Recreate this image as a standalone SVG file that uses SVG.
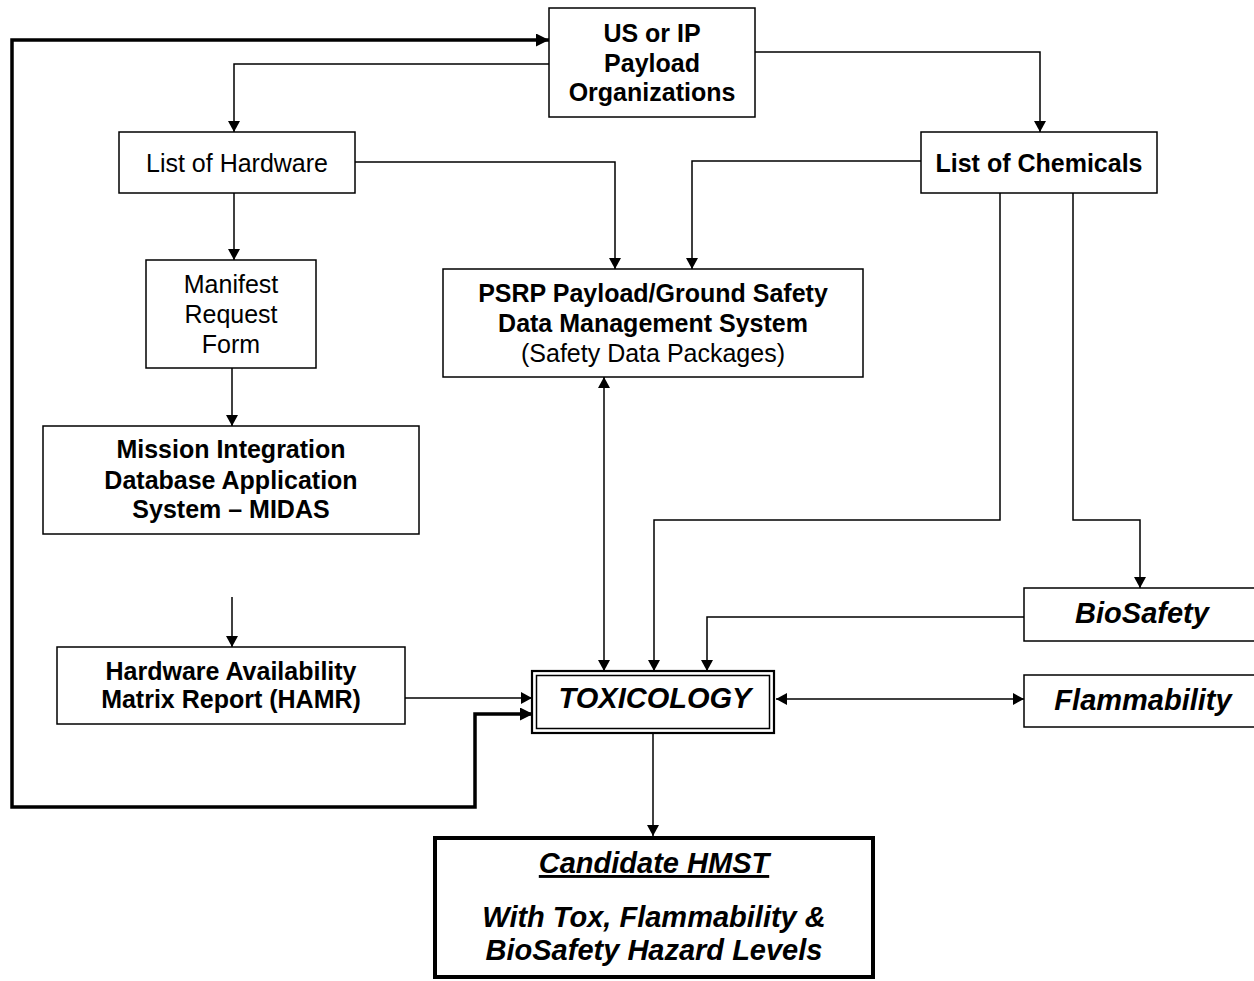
<svg xmlns="http://www.w3.org/2000/svg" width="1254" height="981" viewBox="0 0 1254 981">
<style>
.box{fill:#fff;stroke:#000;stroke-width:1.5}
.ln{fill:none;stroke:#000;stroke-width:1.5}
.thick{fill:none;stroke:#000;stroke-width:3.5}
text{font-family:"Liberation Sans",Arial,sans-serif;font-size:25px;fill:#000;text-anchor:middle}
.b{font-weight:bold}
.bi{font-weight:bold;font-style:italic;font-size:29px}
</style>
<defs>
<marker id="ah" viewBox="0 0 11 12" refX="11" refY="6" markerWidth="11" markerHeight="12" markerUnits="userSpaceOnUse" orient="auto-start-reverse"><path d="M0,0 L11,6 L0,12 z" fill="#000"/></marker>
<marker id="aht" viewBox="0 0 13 13" refX="13" refY="6.5" markerWidth="13" markerHeight="13" markerUnits="userSpaceOnUse" orient="auto-start-reverse"><path d="M0,0 L13,6.5 L0,13 z" fill="#000"/></marker>
</defs>
<g id="connectors">
<path class="thick" d="M533,714 H475 V807 H12 V40 H549" marker-start="url(#aht)" marker-end="url(#aht)"/>
<path class="ln" d="M549,64 H234 V132" marker-end="url(#ah)"/>
<path class="ln" d="M755,52 H1040 V132" marker-end="url(#ah)"/>
<path class="ln" d="M355,162 H615 V269" marker-end="url(#ah)"/>
<path class="ln" d="M921,161 H692 V269" marker-end="url(#ah)"/>
<path class="ln" d="M234,193 V260" marker-end="url(#ah)"/>
<path class="ln" d="M232,368 V426" marker-end="url(#ah)"/>
<path class="ln" d="M232,597 V647" marker-end="url(#ah)"/>
<path class="ln" d="M405,698 H532" marker-end="url(#ah)"/>
<path class="ln" d="M604,377 V671" marker-start="url(#ah)" marker-end="url(#ah)"/>
<path class="ln" d="M1000,193 V520 H654 V671" marker-end="url(#ah)"/>
<path class="ln" d="M1073,193 V520 H1140 V588" marker-end="url(#ah)"/>
<path class="ln" d="M1024,617 H707 V671" marker-end="url(#ah)"/>
<path class="ln" d="M776,699 H1024" marker-start="url(#ah)" marker-end="url(#ah)"/>
<path class="ln" d="M653,733 V836" marker-end="url(#ah)"/>
</g>
<g id="us-ip">
<rect class="box" x="549" y="8" width="206" height="109"/>
<text class="b" x="652" y="42">US or IP</text>
<text class="b" x="652" y="72">Payload</text>
<text class="b" x="652" y="101">Organizations</text>
</g>
<g id="list-hardware">
<rect class="box" x="119" y="132" width="236" height="61"/>
<text x="237" y="172">List of Hardware</text>
</g>
<g id="list-chemicals">
<rect class="box" x="921" y="132" width="236" height="61"/>
<text class="b" x="1039" y="172">List of Chemicals</text>
</g>
<g id="psrp">
<rect class="box" x="443" y="269" width="420" height="108"/>
<text class="b" x="653" y="302">PSRP Payload/Ground Safety</text>
<text class="b" x="653" y="332">Data Management System</text>
<text x="653" y="362">(Safety Data Packages)</text>
</g>
<g id="manifest">
<rect class="box" x="146" y="260" width="170" height="108"/>
<text x="231" y="293">Manifest</text>
<text x="231" y="323">Request</text>
<text x="231" y="353">Form</text>
</g>
<g id="midas">
<rect class="box" x="43" y="426" width="376" height="108"/>
<text class="b" x="231" y="458">Mission Integration</text>
<text class="b" x="231" y="489">Database Application</text>
<text class="b" x="231" y="518">System – MIDAS</text>
</g>
<g id="hamr">
<rect class="box" x="57" y="647" width="348" height="77"/>
<text class="b" x="231" y="680">Hardware Availability</text>
<text class="b" x="231" y="708">Matrix Report (HAMR)</text>
</g>
<g id="toxicology">
<rect x="532" y="671" width="242" height="62" fill="#fff" stroke="#000" stroke-width="2.2"/>
<rect x="536.5" y="675.5" width="233" height="53" fill="none" stroke="#000" stroke-width="1.5"/>
<text class="bi" x="655" y="708">TOXICOLOGY</text>
</g>
<g id="biosafety">
<rect class="box" x="1024" y="588" width="240" height="53"/>
<text class="bi" x="1142" y="623">BioSafety</text>
</g>
<g id="flammability">
<rect class="box" x="1024" y="675" width="240" height="52"/>
<text class="bi" x="1143" y="710">Flammability</text>
</g>
<g id="hmst">
<rect x="435" y="838" width="438" height="139" fill="#fff" stroke="#000" stroke-width="4"/>
<text class="bi" x="654" y="873" text-decoration="underline">Candidate HMST</text>
<text class="bi" x="654" y="927">With Tox, Flammability &amp;</text>
<text class="bi" x="654" y="960">BioSafety Hazard Levels</text>
</g>
</svg>
